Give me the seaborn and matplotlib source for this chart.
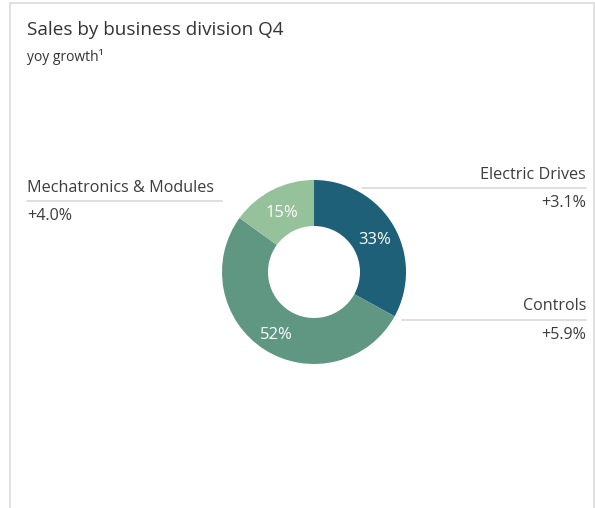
import matplotlib
matplotlib.use("Agg")
import matplotlib.pyplot as plt
from matplotlib.lines import Line2D
import seaborn as sns

divisions = ["Electric Drives", "Controls", "Mechatronics & Modules"]
shares = [33, 52, 15]
growth = ["+3.1%", "+5.9%", "+4.0%"]
colors = ["#1f6079", "#5f9783", "#95c19b"]

sns.set_theme(style="white")
plt.rcParams["font.family"] = ["Open Sans", "DejaVu Sans"]

W, H = 595, 508
fig = plt.figure(figsize=(W / 100, H / 100), dpi=100)
fig.patch.set_facecolor("white")


def fx(x):
    return x / W


def fy(y):
    return 1 - y / H


# card border
border = "#dcdcdc"
fig.add_artist(Line2D([fx(10), fx(10)], [fy(3), fy(508)], color=border, lw=1.2, transform=fig.transFigure))
fig.add_artist(Line2D([fx(10), fx(594)], [fy(3), fy(3)], color=border, lw=1.2, transform=fig.transFigure))
fig.add_artist(Line2D([fx(594), fx(594)], [fy(3), fy(508)], color=border, lw=1.2, transform=fig.transFigure))

# donut
cx, cy, r = 314, 272, 92
ax = fig.add_axes([fx(cx - r), fy(cy + r), 2 * r / W, 2 * r / H])
wedges, _, autotexts = ax.pie(
    shares,
    colors=colors,
    startangle=90,
    counterclock=False,
    radius=1,
    wedgeprops=dict(width=0.5, edgecolor="none"),
    autopct=lambda p: f"{p:.0f}%",
    pctdistance=0.77,
    textprops=dict(color="white", fontsize=12),
)
for t in autotexts:
    x, y = t.get_position()
    t.set_position((x, y - 0.04))
ax.set_xlim(-1, 1)
ax.set_ylim(-1, 1)
ax.set_aspect("equal")
ax.axis("off")

# titles
fig.text(fx(27), fy(30), "Sales by business division Q4", fontsize=13.6, color="#333333", va="center", ha="left")
fig.text(fx(27), fy(57), "yoy growth\u00b9", fontsize=10, color="#333333", va="center", ha="left")

# division labels with growth
lab_color = "#3c3c3c"
rule = "#d9d9d9"
fs = 11.6
# Electric Drives (right, top)
fig.text(fx(586), fy(175), divisions[0], fontsize=fs, color=lab_color, ha="right", va="center")
fig.add_artist(Line2D([fx(362), fx(586)], [fy(188), fy(188)], color=rule, lw=1.2, transform=fig.transFigure))
fig.text(fx(586), fy(203), growth[0], fontsize=fs, color=lab_color, ha="right", va="center")
# Controls (right, bottom)
fig.text(fx(586), fy(306), divisions[1], fontsize=fs, color=lab_color, ha="right", va="center")
fig.add_artist(Line2D([fx(402), fx(586)], [fy(320), fy(320)], color=rule, lw=1.2, transform=fig.transFigure))
fig.text(fx(586), fy(335), growth[1], fontsize=fs, color=lab_color, ha="right", va="center")
# Mechatronics & Modules (left)
fig.text(fx(27), fy(188), divisions[2], fontsize=fs, color=lab_color, ha="left", va="center")
fig.add_artist(Line2D([fx(27), fx(222)], [fy(201), fy(201)], color=rule, lw=1.2, transform=fig.transFigure))
fig.text(fx(27), fy(216), growth[2], fontsize=fs, color=lab_color, ha="left", va="center")

fig.savefig("out.png", dpi=100)
